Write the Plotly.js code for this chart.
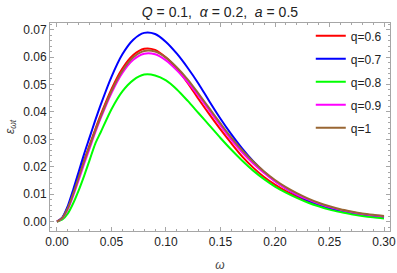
<!DOCTYPE html>
<html>
<head>
<meta charset="utf-8">
<script src="https://cdn.plot.ly/plotly-3.0.1.min.js"></script>
<style>html,body{margin:0;padding:0;background:#fff;}#chart{width:397px;height:273px;}</style>
</head>
<body>
<div id="chart"></div>
<script>
const omega = [0, 0.005, 0.01, 0.015, 0.02, 0.025, 0.03, 0.035, 0.04, 0.05, 0.06, 0.07, 0.08, 0.09, 0.10, 0.11, 0.12, 0.13, 0.14, 0.15, 0.16, 0.17, 0.18, 0.19, 0.20, 0.21, 0.22, 0.23, 0.24, 0.25, 0.26, 0.27, 0.28, 0.29, 0.30];

const q06 = [0, 0.0015, 0.0052, 0.0106, 0.0166, 0.0225, 0.0280, 0.0335, 0.0388, 0.0483, 0.0558, 0.0607, 0.0630, 0.0626, 0.0598, 0.0557, 0.0505, 0.0446, 0.0390, 0.0336, 0.0285, 0.0237, 0.0197, 0.0163, 0.0135, 0.0111, 0.0091, 0.0074, 0.0060, 0.0048, 0.0038, 0.0031, 0.0025, 0.0020, 0.0016];
const q07 = [0, 0.0016, 0.0058, 0.0118, 0.0183, 0.0248, 0.0308, 0.0368, 0.0425, 0.0528, 0.0610, 0.0663, 0.0688, 0.0684, 0.0655, 0.0612, 0.0560, 0.0502, 0.0437, 0.0375, 0.0318, 0.0266, 0.0220, 0.0181, 0.0148, 0.0121, 0.0098, 0.0078, 0.0062, 0.0049, 0.0039, 0.0031, 0.0025, 0.0020, 0.0016];
const q08 = [0, 0.0008, 0.0030, 0.0068, 0.0115, 0.0168, 0.0225, 0.0283, 0.0325, 0.0410, 0.0475, 0.0516, 0.0536, 0.0533, 0.0515, 0.0482, 0.0440, 0.0395, 0.0350, 0.0305, 0.0262, 0.0222, 0.0186, 0.0155, 0.0128, 0.0106, 0.0087, 0.0070, 0.0056, 0.0044, 0.0035, 0.0027, 0.0021, 0.0016, 0.0012];
const q09 = [0, 0.0013, 0.0046, 0.0096, 0.0153, 0.0212, 0.0268, 0.0324, 0.0376, 0.0469, 0.0542, 0.0590, 0.0612, 0.0610, 0.0588, 0.0552, 0.0508, 0.0458, 0.0404, 0.0350, 0.0298, 0.0252, 0.0212, 0.0177, 0.0147, 0.0121, 0.0099, 0.0081, 0.0066, 0.0053, 0.0043, 0.0035, 0.0028, 0.0023, 0.0019];
const q1  = [0, 0.0014, 0.0050, 0.0103, 0.0162, 0.0221, 0.0276, 0.0331, 0.0382, 0.0476, 0.0550, 0.0599, 0.0622, 0.0620, 0.0598, 0.0562, 0.0518, 0.0466, 0.0412, 0.0358, 0.0306, 0.0260, 0.0219, 0.0183, 0.0152, 0.0126, 0.0104, 0.0085, 0.0069, 0.0056, 0.0045, 0.0037, 0.0030, 0.0025, 0.0021];

const seriesNames = ['q=0.6', 'q=0.7', 'q=0.8', 'q=0.9', 'q=1'];
const seriesValues = [q06, q07, q08, q09, q1];
const seriesColors = ['#ff0000', '#0000ff', '#00ff00', '#ff00ff', '#996633'];

const xTicks = [0, 0.05, 0.10, 0.15, 0.20, 0.25, 0.30];
const yTicks = [0, 0.01, 0.02, 0.03, 0.04, 0.05, 0.06, 0.07];

const traces = seriesNames.map((name, i) => ({
  x: omega, y: seriesValues[i], name: name, type: 'scatter', mode: 'lines',
  legendgroup: 'g' + i,
  line: {color: seriesColors[i], width: 2, shape: 'spline', smoothing: 0.8}
}));

const frameColor = '#a6a6a6';
const axisCommon = {
  showgrid: false, zeroline: false, showline: true, linecolor: frameColor, linewidth: 1,
  mirror: 'allticks', ticks: 'inside', ticklen: 4, tickcolor: frameColor, tickwidth: 1,
  tickfont: {family: 'Liberation Sans, Arial, sans-serif', size: 12, color: '#222'},
  tickformat: '.2f'
};

const layout = {
  width: 397, height: 273,
  margin: {l: 50, r: 7, t: 23, b: 42},
  paper_bgcolor: '#fff', plot_bgcolor: '#fff',
  font: {family: 'Liberation Sans, Arial, sans-serif', size: 12, color: '#222'},
  title: {text: '<i>Q</i> = 0.1,  <i>α</i> = 0.2,  <i>a</i> = 0.5', x: 0.554, xanchor: 'center', y: 0.955, yanchor: 'middle',
          font: {family: 'Liberation Sans, Arial, sans-serif', size: 14, color: '#222'}},
  xaxis: Object.assign({}, axisCommon, {
    range: [-0.0064, 0.3055], tickvals: xTicks,
    minor: {ticks: 'inside', ticklen: 2, tickcolor: frameColor, dtick: 0.01, tick0: 0, showgrid: false},
    title: {text: '<i>ω</i>', standoff: 12, font: {size: 12, color: '#444'}}
  }),
  yaxis: Object.assign({}, axisCommon, {
    range: [-0.0034, 0.0724], tickvals: yTicks,
    minor: {ticks: 'inside', ticklen: 2, tickcolor: frameColor, dtick: 0.002, tick0: 0, showgrid: false},
    title: {text: '<i>ε<sub>ωt</sub></i>', standoff: 6, font: {size: 12, color: '#444'}}
  }),
  showlegend: true,
  legend: {x: 0.767, xanchor: 'left', y: 1.008, yanchor: 'top', traceorder: 'grouped', tracegroupgap: 4,
           bgcolor: 'rgba(255,255,255,0)', borderwidth: 0,
           font: {family: 'Liberation Sans, Arial, sans-serif', size: 12, color: '#222'}}
};

Plotly.newPlot('chart', traces, layout, {displayModeBar: false, staticPlot: true});
</script>
</body>
</html>
